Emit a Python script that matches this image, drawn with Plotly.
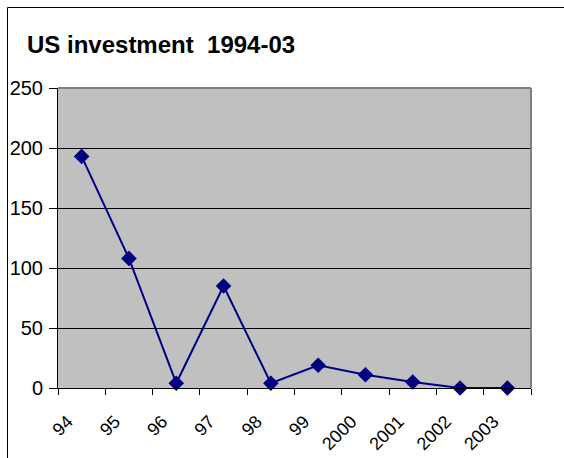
import plotly.graph_objects as go

categories = ["94", "95", "96", "97", "98", "99", "2000", "2001", "2002", "2003"]
investment = [193, 108, 4, 85, 4, 19, 11, 5, 0, 0]
y_ticks = [0, 50, 100, 150, 200, 250]

W, H = 564, 458
ML, MR, MT, MB = 58, 33, 88, 70
PW, PH = W - ML - MR, H - MT - MB

def px_x(p):
    return (p - ML) / PW

def px_y(p):
    return (H - MB - p) / PH

FONT = "Arial, Liberation Sans, sans-serif"

fig = go.Figure()
fig.add_trace(go.Scatter(
    x=categories, y=investment, mode="lines+markers",
    line=dict(color="#000080", width=2),
    marker=dict(symbol="diamond", size=12, color="#000080"),
    cliponaxis=False, showlegend=False,
))

fig.update_layout(
    width=W, height=H,
    margin=dict(l=ML, r=MR, t=MT, b=MB, autoexpand=False),
    paper_bgcolor="white", plot_bgcolor="#C0C0C0",
    font=dict(family=FONT, size=20, color="black"),
    title=dict(text="<b>US investment  1994-03</b>", font=dict(size=24, family=FONT, color="black"),
               xref="container", yref="container", x=27 / W, xanchor="left",
               y=1 - 45 / H, yanchor="middle"),
    xaxis=dict(type="category", range=[-0.5, len(categories) - 0.5], autorange=False,
               automargin=False,
               tickangle=-45, tickson="boundaries", ticks="outside",
               ticklen=6, tickcolor="black", showline=True, linecolor="black", linewidth=1,
               showgrid=False, zeroline=False, ticklabelstandoff=15, ticklabelshift=-14,
               tickfont=dict(size=18, family=FONT)),
    yaxis=dict(range=[0, 250], autorange=False, automargin=False, tickvals=y_ticks,
               ticks="outside", ticklen=8, tickcolor="black", ticklabelstandoff=2,
               showline=True, linecolor="black", linewidth=1, showgrid=True, gridcolor="black",
               gridwidth=1, zeroline=False, tickfont=dict(size=20, family=FONT)),
    shapes=[
        dict(type="line", xref="paper", yref="paper", x0=0, x1=1, y0=1, y1=1,
             line=dict(color="#808080", width=2), layer="above"),
        dict(type="line", xref="paper", yref="paper", x0=1, x1=1, y0=0, y1=1,
             line=dict(color="#808080", width=2), layer="above"),
        dict(type="rect", xref="paper", yref="paper", x0=px_x(7.5), x1=px_x(600),
             y0=px_y(500), y1=px_y(7.5), line=dict(color="black", width=1), layer="below"),
    ],
)

fig.write_html("out.html")
